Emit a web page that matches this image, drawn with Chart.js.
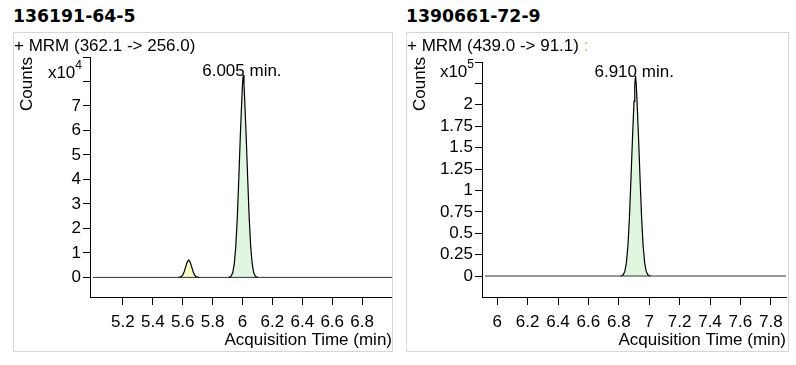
<!DOCTYPE html>
<html>
<head>
<meta charset="utf-8">
<script src="https://cdn.jsdelivr.net/npm/chart.js@4"></script>
<style>
  body { margin: 0; background: #fff; width: 796px; height: 365px; position: relative; overflow: hidden;
         font-family: 'Liberation Sans', Arial, sans-serif; }
  .title { position: absolute; top: 5px; font-family: 'DejaVu Sans', sans-serif;
           font-weight: bold; font-size: 17.3px; line-height: 22px; color: #000; }
  .panel { position: absolute; top: 32px; height: 320px; border: 1px solid #d6d6d6; box-sizing: border-box; }
  .panel canvas { position: absolute; left: 0; top: 0; }
  .mrm { position: absolute; left: 0; top: 2.5px; font-size: 17px; line-height: 20px; color: #000; white-space: nowrap; z-index: 2; }
  .mrm span { color: #f0a848; }
</style>
</head>
<body>
<div class="title" style="left:13px">136191-64-5</div>
<div class="title" style="left:406px">1390661-72-9</div>

<div class="panel" style="left:13px; width:380px">
  <div class="mrm">+ MRM (362.1 -&gt; 256.0)</div>
  <canvas id="leftChart" width="378" height="318"></canvas>
</div>
<div class="panel" style="left:406px; width:383px">
  <div class="mrm">+ MRM (439.0 -&gt; 91.1) <span>:</span></div>
  <canvas id="rightChart" width="381" height="318"></canvas>
</div>

<script>
// ---- left trace: 136191-64-5 ----
const leftBaseTime = [5.0, 7.0];
const leftBaseCounts = [0, 0];
const leftPeak1Time = [5.57, 5.58, 5.59, 5.60, 5.61, 5.62, 5.63, 5.64, 5.65, 5.66, 5.67, 5.68, 5.69, 5.70, 5.71];
const leftPeak1Counts = [0, 80, 310, 960, 2300, 4300, 6250, 7100, 6250, 4300, 2300, 960, 310, 80, 0];
const leftPeak2Time = [5.905, 5.915, 5.925, 5.935, 5.945, 5.955, 5.965, 5.975, 5.985, 5.995, 6.000, 6.005,
                       6.010, 6.015, 6.025, 6.035, 6.045, 6.055, 6.065, 6.075, 6.085, 6.095, 6.105];
const leftPeak2Counts = [0, 100, 600, 2000, 5500, 12500, 24000, 40000, 57000, 72000, 79000, 82700,
                         79000, 72000, 57000, 40000, 24000, 12500, 5500, 2000, 600, 100, 0];
const leftPeakLabel = '6.005';
const leftXTicks = [5.2, 5.4, 5.6, 5.8, 6.0, 6.2, 6.4, 6.6, 6.8, 7.0];
const leftXLabels = ['5.2', '5.4', '5.6', '5.8', '6', '6.2', '6.4', '6.6', '6.8', ''];
const leftYTicks = [0, 10000, 20000, 30000, 40000, 50000, 60000, 70000, 80000, 90000];
const leftYLabels = ['0', '1', '2', '3', '4', '5', '6', '7', '', ''];

// ---- right trace: 1390661-72-9 ----
const rightBaseTime = [5.92, 7.90];
const rightBaseCounts = [0, 0];
const rightPeakTime = [6.81, 6.82, 6.83, 6.84, 6.85, 6.86, 6.87, 6.88, 6.89, 6.90, 6.905, 6.91,
                       6.915, 6.92, 6.93, 6.94, 6.95, 6.96, 6.97, 6.98, 6.99, 7.00, 7.01];
const rightPeakCounts = [0, 300, 1700, 5700, 15600, 35400, 68000, 113000, 161000, 204000, 224000, 234000,
                         224000, 204000, 161000, 113000, 68000, 35400, 15600, 5700, 1700, 300, 0];
const rightPeakLabel = '6.910';
const rightXTicks = [6.0, 6.2, 6.4, 6.6, 6.8, 7.0, 7.2, 7.4, 7.6, 7.8];
const rightXLabels = ['6', '6.2', '6.4', '6.6', '6.8', '7', '7.2', '7.4', '7.6', '7.8'];
const rightYTicks = [0, 25000, 50000, 75000, 100000, 125000, 150000, 175000, 200000, 225000, 250000];
const rightYLabels = ['0', '0.25', '0.5', '0.75', '1', '1.25', '1.5', '1.75', '2', '', ''];

const FONT = "'Liberation Sans', Arial, sans-serif";
const GREEN = '#e0f6e0';
const YELLOW = '#fefec4';

const pts = (xs, ys) => xs.map((x, i) => ({ x: x, y: ys[i] }));

function peakOf(xs, ys) {
  let k = 0;
  ys.forEach((v, i) => { if (v > ys[k]) k = i; });
  return { t: xs[k], v: ys[k] };
}

// axis captions and retention-time label
const annotate = {
  id: 'annotate',
  afterDraw(chart, args, o) {
    const ctx = chart.ctx;
    const xs = chart.scales.x, ys = chart.scales.y;
    ctx.save();
    ctx.fillStyle = '#000';
    ctx.textBaseline = 'middle';

    ctx.save();
    ctx.font = '17px ' + FONT;
    ctx.translate(13, 51);
    ctx.rotate(-Math.PI / 2);
    ctx.textAlign = 'center';
    ctx.fillText('Counts', 0, 0);
    ctx.restore();

    const right = chart.chartArea.left - 8;
    ctx.font = '12px ' + FONT;
    const sw = ctx.measureText(o.exp).width;
    ctx.textAlign = 'right';
    ctx.fillText(o.exp, right, o.expY - 7);
    ctx.font = '17px ' + FONT;
    ctx.fillText('x10', right - sw, o.expY);

    ctx.textAlign = 'left';
    o.peaks.forEach(p => {
      const px = xs.getPixelForValue(p.t);
      const py = ys.getPixelForValue(p.v);
      const w = ctx.measureText(p.label).width;
      ctx.fillText(p.label + ' min.', px - w + 1.5, py - 3.5);
    });
    ctx.restore();
  }
};

function makeChart(id, c) {
  const datasets = [{
    data: pts(c.baseT, c.baseC), borderColor: '#333', borderWidth: 1, fill: false, order: 0
  }];
  c.peaks.forEach(p => datasets.push({
    data: pts(p.t, p.c), borderColor: '#000', borderWidth: 1.2,
    backgroundColor: p.color, fill: 'origin', order: 1
  }));

  return new Chart(document.getElementById(id), {
    type: 'line',
    data: { datasets: datasets },
    options: {
      responsive: false,
      animation: false,
      devicePixelRatio: 1,
      elements: { point: { radius: 0 }, line: { tension: 0 } },
      layout: { padding: { top: c.padTop, right: c.padRight, left: 0, bottom: 0 } },
      plugins: {
        legend: { display: false },
        tooltip: { enabled: false },
        annotate: { exp: c.exp, expY: c.expY, peaks: c.labels }
      },
      scales: {
        x: {
          type: 'linear', min: c.xMin, max: c.xMax,
          afterBuildTicks: s => { s.ticks = c.xTicks.map(v => ({ value: v })); },
          afterFit: s => { s.height = 54; s.paddingLeft = 0; s.paddingRight = 0; },
          ticks: {
            autoSkip: false, maxRotation: 0, padding: 7, color: '#000',
            font: { family: FONT, size: 17 },
            callback: (v, i) => c.xLabels[i]
          },
          grid: { drawOnChartArea: false, tickLength: 8, color: '#000' },
          border: { color: '#000' },
          title: {
            display: true, text: 'Acquisition Time (min)', align: 'end', color: '#000',
            font: { family: FONT, size: 17 }, padding: { top: 0, bottom: 0 }
          }
        },
        y: {
          type: 'linear', min: c.yMin, max: c.yMax,
          afterBuildTicks: s => { s.ticks = c.yTicks.map(v => ({ value: v })); },
          afterFit: s => { s.width = c.yWidth; s.paddingTop = 0; s.paddingBottom = 0; },
          ticks: {
            autoSkip: false, padding: 2, color: '#000',
            font: { family: FONT, size: 17 },
            callback: (v, i) => c.yLabels[i]
          },
          grid: { drawOnChartArea: false, tickLength: 7, color: '#000' },
          border: { color: '#000' }
        }
      }
    },
    plugins: [annotate]
  });
}

makeChart('leftChart', {
  baseT: leftBaseTime, baseC: leftBaseCounts,
  peaks: [
    { t: leftPeak1Time, c: leftPeak1Counts, color: YELLOW },
    { t: leftPeak2Time, c: leftPeak2Counts, color: GREEN }
  ],
  labels: [Object.assign(peakOf(leftPeak2Time, leftPeak2Counts), { label: leftPeakLabel })],
  xMin: 4.98, xMax: 7.0, xTicks: leftXTicks, xLabels: leftXLabels,
  yMin: -8000, yMax: 90000, yTicks: leftYTicks, yLabels: leftYLabels,
  exp: '4', expY: 40, padTop: 24, padRight: 0, yWidth: 76
});

makeChart('rightChart', {
  baseT: rightBaseTime, baseC: rightBaseCounts,
  peaks: [{ t: rightPeakTime, c: rightPeakCounts, color: GREEN }],
  labels: [Object.assign(peakOf(rightPeakTime, rightPeakCounts), { label: rightPeakLabel })],
  xMin: 5.90, xMax: 7.90, xTicks: rightXTicks, xLabels: rightXLabels,
  yMin: -24500, yMax: 250000, yTicks: rightYTicks, yLabels: rightYLabels,
  exp: '5', expY: 39, padTop: 29, padRight: 2, yWidth: 75
});
</script>
</body>
</html>
